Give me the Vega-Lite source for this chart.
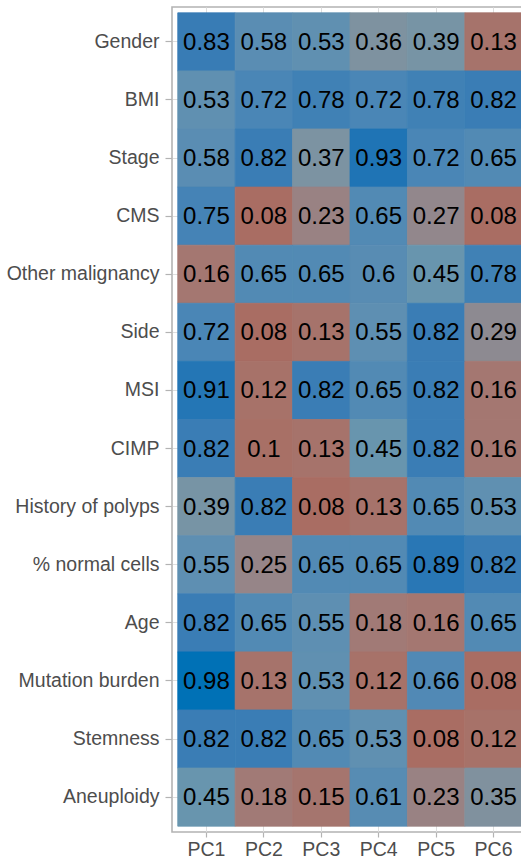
{
  "$schema": "https://vega.github.io/schema/vega-lite/v6.json",
  "autosize": {"type": "none"},
  "padding": {"left": 172, "top": 7, "right": 0, "bottom": 29},
  "width": 356,
  "height": 825,
  "background": "white",
  "config": {
    "font": "Liberation Sans",
    "view": {"stroke": "#B3B3B3", "strokeWidth": 1.6},
    "axis": {
      "labelFont": "Liberation Sans",
      "labelFontSize": 19.5,
      "labelColor": "#4D4D4D",
      "tickColor": "#B3B3B3",
      "tickSize": 6,
      "tickWidth": 1.2,
      "domain": false,
      "grid": true,
      "gridColor": "#DEDEDE",
      "gridWidth": 1,
      "bandPosition": 0.5,
      "zindex": 0,
      "title": null
    }
  },
  "data": {
    "values": [
      {"variable": "Gender", "pc": "PC1", "v": 0.83}, {"variable": "Gender", "pc": "PC2", "v": 0.58}, {"variable": "Gender", "pc": "PC3", "v": 0.53}, {"variable": "Gender", "pc": "PC4", "v": 0.36}, {"variable": "Gender", "pc": "PC5", "v": 0.39}, {"variable": "Gender", "pc": "PC6", "v": 0.13},
      {"variable": "BMI", "pc": "PC1", "v": 0.53}, {"variable": "BMI", "pc": "PC2", "v": 0.72}, {"variable": "BMI", "pc": "PC3", "v": 0.78}, {"variable": "BMI", "pc": "PC4", "v": 0.72}, {"variable": "BMI", "pc": "PC5", "v": 0.78}, {"variable": "BMI", "pc": "PC6", "v": 0.82},
      {"variable": "Stage", "pc": "PC1", "v": 0.58}, {"variable": "Stage", "pc": "PC2", "v": 0.82}, {"variable": "Stage", "pc": "PC3", "v": 0.37}, {"variable": "Stage", "pc": "PC4", "v": 0.93}, {"variable": "Stage", "pc": "PC5", "v": 0.72}, {"variable": "Stage", "pc": "PC6", "v": 0.65},
      {"variable": "CMS", "pc": "PC1", "v": 0.75}, {"variable": "CMS", "pc": "PC2", "v": 0.08}, {"variable": "CMS", "pc": "PC3", "v": 0.23}, {"variable": "CMS", "pc": "PC4", "v": 0.65}, {"variable": "CMS", "pc": "PC5", "v": 0.27}, {"variable": "CMS", "pc": "PC6", "v": 0.08},
      {"variable": "Other malignancy", "pc": "PC1", "v": 0.16}, {"variable": "Other malignancy", "pc": "PC2", "v": 0.65}, {"variable": "Other malignancy", "pc": "PC3", "v": 0.65}, {"variable": "Other malignancy", "pc": "PC4", "v": 0.6}, {"variable": "Other malignancy", "pc": "PC5", "v": 0.45}, {"variable": "Other malignancy", "pc": "PC6", "v": 0.78},
      {"variable": "Side", "pc": "PC1", "v": 0.72}, {"variable": "Side", "pc": "PC2", "v": 0.08}, {"variable": "Side", "pc": "PC3", "v": 0.13}, {"variable": "Side", "pc": "PC4", "v": 0.55}, {"variable": "Side", "pc": "PC5", "v": 0.82}, {"variable": "Side", "pc": "PC6", "v": 0.29},
      {"variable": "MSI", "pc": "PC1", "v": 0.91}, {"variable": "MSI", "pc": "PC2", "v": 0.12}, {"variable": "MSI", "pc": "PC3", "v": 0.82}, {"variable": "MSI", "pc": "PC4", "v": 0.65}, {"variable": "MSI", "pc": "PC5", "v": 0.82}, {"variable": "MSI", "pc": "PC6", "v": 0.16},
      {"variable": "CIMP", "pc": "PC1", "v": 0.82}, {"variable": "CIMP", "pc": "PC2", "v": 0.1}, {"variable": "CIMP", "pc": "PC3", "v": 0.13}, {"variable": "CIMP", "pc": "PC4", "v": 0.45}, {"variable": "CIMP", "pc": "PC5", "v": 0.82}, {"variable": "CIMP", "pc": "PC6", "v": 0.16},
      {"variable": "History of polyps", "pc": "PC1", "v": 0.39}, {"variable": "History of polyps", "pc": "PC2", "v": 0.82}, {"variable": "History of polyps", "pc": "PC3", "v": 0.08}, {"variable": "History of polyps", "pc": "PC4", "v": 0.13}, {"variable": "History of polyps", "pc": "PC5", "v": 0.65}, {"variable": "History of polyps", "pc": "PC6", "v": 0.53},
      {"variable": "% normal cells", "pc": "PC1", "v": 0.55}, {"variable": "% normal cells", "pc": "PC2", "v": 0.25}, {"variable": "% normal cells", "pc": "PC3", "v": 0.65}, {"variable": "% normal cells", "pc": "PC4", "v": 0.65}, {"variable": "% normal cells", "pc": "PC5", "v": 0.89}, {"variable": "% normal cells", "pc": "PC6", "v": 0.82},
      {"variable": "Age", "pc": "PC1", "v": 0.82}, {"variable": "Age", "pc": "PC2", "v": 0.65}, {"variable": "Age", "pc": "PC3", "v": 0.55}, {"variable": "Age", "pc": "PC4", "v": 0.18}, {"variable": "Age", "pc": "PC5", "v": 0.16}, {"variable": "Age", "pc": "PC6", "v": 0.65},
      {"variable": "Mutation burden", "pc": "PC1", "v": 0.98}, {"variable": "Mutation burden", "pc": "PC2", "v": 0.13}, {"variable": "Mutation burden", "pc": "PC3", "v": 0.53}, {"variable": "Mutation burden", "pc": "PC4", "v": 0.12}, {"variable": "Mutation burden", "pc": "PC5", "v": 0.66}, {"variable": "Mutation burden", "pc": "PC6", "v": 0.08},
      {"variable": "Stemness", "pc": "PC1", "v": 0.82}, {"variable": "Stemness", "pc": "PC2", "v": 0.82}, {"variable": "Stemness", "pc": "PC3", "v": 0.65}, {"variable": "Stemness", "pc": "PC4", "v": 0.53}, {"variable": "Stemness", "pc": "PC5", "v": 0.08}, {"variable": "Stemness", "pc": "PC6", "v": 0.12},
      {"variable": "Aneuploidy", "pc": "PC1", "v": 0.45}, {"variable": "Aneuploidy", "pc": "PC2", "v": 0.18}, {"variable": "Aneuploidy", "pc": "PC3", "v": 0.15}, {"variable": "Aneuploidy", "pc": "PC4", "v": 0.61}, {"variable": "Aneuploidy", "pc": "PC5", "v": 0.23}, {"variable": "Aneuploidy", "pc": "PC6", "v": 0.35}
    ]
  },
  "encoding": {
    "x": {
      "field": "pc",
      "type": "nominal",
      "sort": ["PC1", "PC2", "PC3", "PC4", "PC5", "PC6"],
      "scale": {"paddingInner": 0, "paddingOuter": 0.1},
      "axis": {"orient": "bottom", "labelAngle": 0, "labelPadding": 3, "tickSize": 5}
    },
    "y": {
      "field": "variable",
      "type": "nominal",
      "sort": ["Gender", "BMI", "Stage", "CMS", "Other malignancy", "Side", "MSI", "CIMP", "History of polyps", "% normal cells", "Age", "Mutation burden", "Stemness", "Aneuploidy"],
      "scale": {"paddingInner": 0, "paddingOuter": 0.1},
      "axis": {"labelPadding": 6, "tickSize": 7}
    }
  },
  "layer": [
    {
      "mark": {"type": "rect", "strokeWidth": 0.8},
      "encoding": {
        "color": {
          "field": "v",
          "type": "quantitative",
          "scale": {
            "domain": [0.05, 0.15, 0.25, 0.37, 0.45, 0.55, 0.72, 0.82, 0.93, 0.98],
            "range": ["#AA6A5E", "#A5756E", "#968588", "#7C93A2", "#6895AE", "#5E8FB2", "#4A86B6", "#3A7DB5", "#1F74B5", "#0071B6"],
            "interpolate": "rgb",
            "clamp": true
          },
          "legend": null
        },
        "stroke": {
          "field": "v",
          "type": "quantitative",
          "scale": {
            "domain": [0.05, 0.15, 0.25, 0.37, 0.45, 0.55, 0.72, 0.82, 0.93, 0.98],
            "range": ["#AA6A5E", "#A5756E", "#968588", "#7C93A2", "#6895AE", "#5E8FB2", "#4A86B6", "#3A7DB5", "#1F74B5", "#0071B6"],
            "interpolate": "rgb",
            "clamp": true
          },
          "legend": null
        }
      }
    },
    {
      "mark": {"type": "text", "font": "Liberation Sans", "fontSize": 24, "color": "#000000", "baseline": "middle", "align": "center", "dy": 1},
      "encoding": {
        "text": {"field": "v", "type": "nominal"}
      }
    }
  ]
}
